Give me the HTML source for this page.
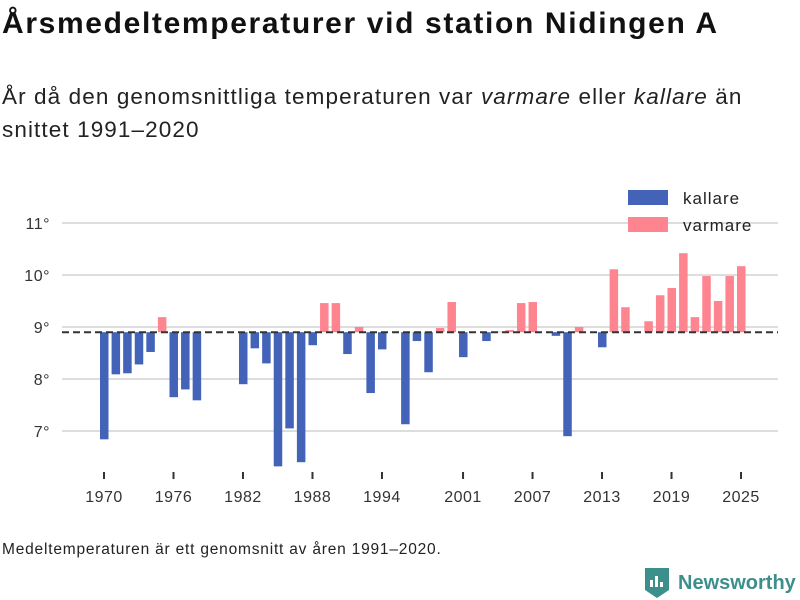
<!DOCTYPE html>
<html><head><meta charset="utf-8"><style>
body{margin:0;width:800px;height:600px;background:#fff;font-family:"Liberation Sans",sans-serif;color:#111;position:relative;overflow:hidden}
#title{position:absolute;left:2px;top:7px;font-size:30px;letter-spacing:1.65px;font-weight:bold;margin:0;white-space:nowrap}
#sub{position:absolute;left:2px;top:80px;font-size:22.5px;letter-spacing:1.1px;line-height:33px;color:#222;white-space:nowrap}
#note{position:absolute;left:2px;top:541px;font-size:15.5px;letter-spacing:0.8px;color:#222;white-space:nowrap}
#logo{position:absolute;left:645px;top:568px;display:flex;align-items:center;font-size:20px;font-weight:bold;color:#3d8f8c}
</style></head><body>
<h1 id="title">Årsmedeltemperaturer vid station Nidingen A</h1>
<div id="sub">År då den genomsnittliga temperaturen var <i>varmare</i> eller <i>kallare</i> än<br>snittet 1991–2020</div>
<svg id="chart" width="800" height="600" style="position:absolute;left:0;top:0"></svg>
<div id="note">Medeltemperaturen är ett genomsnitt av åren 1991–2020.</div>
<div id="logo"><svg width="24" height="30" viewBox="0 0 24 30"><path d="M0 0h24v22l-12 8-12-8z" fill="#3d8f8c"/><rect x="5" y="12" width="3" height="7" fill="#fff"/><rect x="10" y="8" width="3" height="11" fill="#fff"/><rect x="15" y="14" width="3" height="5" fill="#fff"/></svg><span style="margin-left:9px">Newsworthy</span></div>
<script>
const years=[1970,1971,1972,1973,1974,1975,1976,1977,1978,1982,1983,1984,1985,1986,1987,1988,1989,1990,1991,1992,1993,1994,1996,1997,1998,1999,2000,2001,2003,2004,2005,2006,2007,2009,2010,2011,2013,2014,2015,2017,2018,2019,2020,2021,2022,2023,2024,2025];
const temps=[6.84,8.09,8.11,8.28,8.52,9.19,7.65,7.80,7.59,7.90,8.59,8.30,6.32,7.05,6.40,8.65,9.46,9.46,8.48,9.0,7.73,8.57,7.13,8.73,8.13,8.98,9.48,8.42,8.73,8.91,8.94,9.46,9.48,8.83,6.90,9.0,8.61,10.11,9.38,9.11,9.61,9.75,10.42,9.19,9.98,9.50,9.98,10.17];
const baseline=8.9;
const yTicks=[7,8,9,10,11];
const xTicks=[1970,1976,1982,1988,1994,2001,2007,2013,2019,2025];
const NS="http://www.w3.org/2000/svg";
const svg=document.getElementById('chart');
const X=y=>104+(y-1970)*11.582;
const Y=v=>327-(v-9)*52;
function mk(t,a){const e=document.createElementNS(NS,t);for(const k in a)e.setAttribute(k,a[k]);svg.appendChild(e);return e;}
yTicks.forEach(v=>{
 const g=mk('line',{x1:62,x2:778,y1:Y(v),y2:Y(v),stroke:'#ddd','stroke-width':2});
 
 
 const t=mk('text',{x:50,y:Y(v)+6,'text-anchor':'end','font-size':16,fill:'#333','font-family':'Liberation Sans, sans-serif','letter-spacing':0.5});
 t.textContent=v+'°';
 
 
});
years.forEach((yr,i)=>{
 const v=temps[i];const top=Math.min(Y(v),Y(baseline));const h=Math.abs(Y(v)-Y(baseline));
 const r=mk('rect',{x:X(yr)-4,y:top,width:8.5,height:h,fill:v>=baseline?'#fe8490':'#4263b8'});
 
 
});
const bl=mk('line',{x1:62,x2:778,y1:Y(baseline),y2:Y(baseline),stroke:'#333','stroke-width':2,'stroke-dasharray':'7,4'});


xTicks.forEach(yr=>{
 const l=mk('line',{x1:X(yr),x2:X(yr),y1:472,y2:479,stroke:'#333','stroke-width':2});
 
 
 const t=mk('text',{x:X(yr),y:502,'text-anchor':'middle','font-size':16,fill:'#333','font-family':'Liberation Sans, sans-serif','letter-spacing':0.5});
 t.textContent=yr;
 
 
});
[['kallare','#4263b8',190],['varmare','#fe8490',217]].forEach(([n,c,y])=>{
 const r=mk('rect',{x:628,y:y,width:40,height:15,fill:c});
 
 
 const t=mk('text',{x:683,y:y+14,'font-size':17,fill:'#222','font-family':'Liberation Sans, sans-serif','letter-spacing':1.0});
 t.textContent=n;
 
 
});
</script>
</body></html>
